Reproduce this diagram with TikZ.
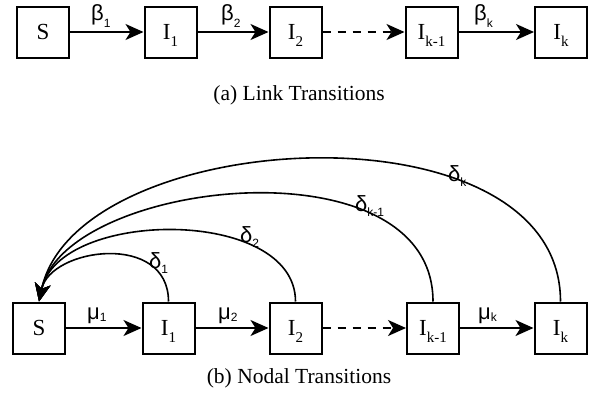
\documentclass[tikz,border=0pt]{standalone}
\usepackage{fontspec}
\newfontfamily\capfont{Liberation Serif}
\newfontfamily\boxfont{Liberation Serif}
\newfontfamily\grfont{Liberation Sans}
\usetikzlibrary{arrows.meta}
\newcommand{\boxlab}[2]{#1\raisebox{-7pt}{\fontsize{15}{15}\selectfont #2}}
\newcommand{\grlab}[3]{#1\raisebox{-#3pt}{\fontsize{12}{12}\selectfont #2}}
\begin{document}
\begin{tikzpicture}[x=1pt,y=-1pt,
  statebox/.style={draw, line width=2pt, minimum width=52pt, minimum height=51pt,
    inner sep=0pt, text height=15.5pt, text depth=0pt, font=\boxfont\fontsize{23}{26}\selectfont},
  flow/.style={line width=1.8pt, -{Stealth[length=18pt,width=16pt,inset=5pt]}},
  back/.style={line width=1.6pt, -{Stealth[length=18pt,width=16pt,inset=5pt]}},
  glab/.style={anchor=base west, inner sep=0pt, font=\grfont\fontsize{22}{24}\selectfont},
  captext/.style={anchor=base, inner sep=0pt, font=\capfont\fontsize{21.5}{25}\selectfont}]
\useasboundingbox (0,0) rectangle (602,407);

% (a) Link transitions
\node[statebox] (a0) at (43,32) {S};
\node[statebox] (a1) at (170.5,32) {\boxlab{I}{1}};
\node[statebox] (a2) at (295.5,32) {\boxlab{I}{2}};
\node[statebox] (a3) at (431.5,32) {\boxlab{I}{k-1}};
\node[statebox] (a4) at (561,32) {\boxlab{I}{k}};
\draw[flow] (a0) -- (a1);
\draw[flow] (a1) -- (a2);
\draw[flow, dash pattern=on 8pt off 7pt] (a2) -- (a3);
\draw[flow] (a3) -- (a4);
\node[glab] (lb1) at (91,20) {\grlab{β}{1}{7}};
\node[glab] (lb2) at (221,20) {\grlab{β}{2}{7}};
\node[glab] (lbk) at (474,20) {\grlab{β}{k}{7}};
\node[captext] (capa) at (299,100) {(a) Link Transitions};

% (b) Nodal transitions
\node[statebox] (b0) at (39,328) {S};
\node[statebox] (b1) at (168.5,328) {\boxlab{I}{1}};
\node[statebox] (b2) at (295.5,328) {\boxlab{I}{2}};
\node[statebox] (b3) at (433,328) {\boxlab{I}{k-1}};
\node[statebox] (b4) at (560.5,328) {\boxlab{I}{k}};
\draw[flow] (b0) -- (b1);
\draw[flow] (b1) -- (b2);
\draw[flow, dash pattern=on 8pt off 7pt] (b2) -- (b3);
\draw[flow] (b3) -- (b4);
\node[glab] (lm1) at (87,319) {\grlab{μ}{1}{2}};
\node[glab] (lm2) at (218,319) {\grlab{μ}{2}{2}};
\node[glab] (lmk) at (478,319) {\grlab{μ}{k}{2}};

\draw[back] (b1.north) .. controls +(0,-70) and +(11.4,-53.8) .. (b0.north);
\draw[back] (b2.north) .. controls +(0,-95) and +(19.8,-92.9) .. (b0.north);
\draw[back] (b3.north) .. controls +(0,-163) and +(26,-122.3) .. (b0.north);
\draw[back] (b4.north) .. controls +(0,-203) and +(37.4,-176) .. (b0.north);
\node[glab] (ld1) at (149,268) {\grlab{δ}{1}{5}};
\node[glab] (ld2) at (240,242) {\grlab{δ}{2}{5}};
\node[glab] (ldk1) at (355,211) {\grlab{δ}{k-1}{5}};
\node[glab] (ldk) at (448,181) {\grlab{δ}{k}{5}};
\node[captext] (capb) at (299,383) {(b) Nodal Transitions};
\end{tikzpicture}
\end{document}
